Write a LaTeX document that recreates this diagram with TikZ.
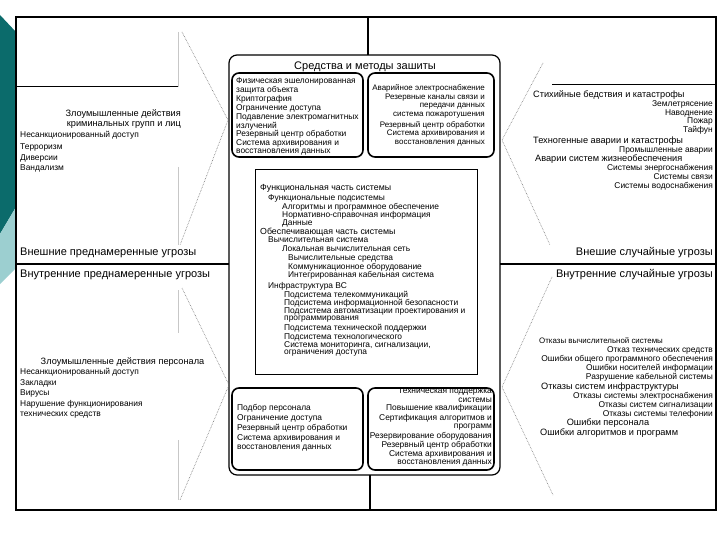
\documentclass[tikz,border=0pt]{standalone}
\usepackage{fontspec}
\setmainfont{Liberation Sans}
\definecolor{tealdark}{HTML}{0B6B6B}
\definecolor{teallight}{HTML}{9CCFD0}
\begin{document}
\begin{tikzpicture}[x=1pt,y=-1pt,
  txt/.style={font=\fontsize{8.4}{9}\selectfont, inner sep=0pt},
  cat/.style={font=\fontsize{9.2}{10}\selectfont, inner sep=0pt},
  lt/.style={txt, anchor=west},
  rt/.style={txt, anchor=east},
  hdr/.style={font=\fontsize{11}{13}\selectfont, inner sep=0pt},
  ibox/.style={draw, line width=1.6pt, rounded corners=7pt, inner sep=0pt, outer sep=0pt},
  dots/.style={densely dotted, black!55, line width=0.6pt},
  faint/.style={black!22, line width=0.6pt},
  rule/.style={line width=1.5pt}]
\useasboundingbox (0,0) rectangle (720,540);
% left decoration
\fill[tealdark] (0,15) -- (16,32) -- (16,207) -- (0,234) -- cycle;
\fill[teallight] (0,234) -- (16,207) -- (16,268) -- (0,284) -- cycle;
% frame
\node[draw, line width=1.6pt, minimum width=700pt, minimum height=493pt, inner sep=0pt, outer sep=0pt, fill=white] (frame) at (366,263.5) {};
% central box
\node[draw, line width=1.2pt, rounded corners=8pt, minimum width=271pt, minimum height=420pt, inner sep=0pt, outer sep=0pt] (cbox) at (364.5,265) {};
\coordinate (ftop) at (368,17);
\coordinate (fbot) at (370,510);
\coordinate (fl) at (16,264);
\coordinate (fr) at (716,264);
\draw[line width=1.2pt] (ftop) -- (ftop |- cbox.north);
\draw[line width=1.2pt] (fbot) -- (fbot |- cbox.south);
\draw[rule] (fl) -- (fl -| cbox.west);
\draw[rule] (fr) -- (fr -| cbox.east);
% chevron shapes
\coordinate (tla) at (182,32); \coordinate (tlb) at (228,120); \coordinate (tlc) at (180,245);
\coordinate (bla) at (182,288); \coordinate (blb) at (229,385); \coordinate (blc) at (180,500);
\coordinate (tra) at (543,63); \coordinate (trb) at (502,140); \coordinate (trc) at (550,245);
\coordinate (bra) at (552,277); \coordinate (brb) at (502,387); \coordinate (brc) at (553,495);
\draw[dots] (tla) -- (tlb) -- (tlc);
\draw[dots] (bla) -- (blb) -- (blc);
\draw[dots] (tra) -- (trb) -- (trc);
\draw[dots] (bra) -- (brb) -- (brc);
\coordinate (g1) at (178,32); \coordinate (g2) at (178,87);
\coordinate (g3) at (178,167); \coordinate (g4) at (178,245);
\coordinate (g5) at (178,290); \coordinate (g6) at (178,333);
\coordinate (g7) at (178,440); \coordinate (g8) at (178,500);
\draw[faint] (g1) -- (g2); \draw[faint] (g3) -- (g4);
\draw[faint] (g5) -- (g6); \draw[faint] (g7) -- (g8);
\coordinate (h1) at (16,87); \coordinate (h2) at (552,85); \coordinate (h3) at (716,85);
\draw[line width=1pt] (h1) -- (g2);
\draw[line width=1pt] (h2) -- (h3);
% title and inner boxes
\node[hdr] (title) at (365,67) {Средства и методы зашиты};
\node[ibox, minimum width=131pt, minimum height=84pt] (b1) at (297.5,115) {};
\node[ibox, minimum width=126pt, minimum height=84pt] (b2) at (431,115) {};
\node[ibox, minimum width=131pt, minimum height=82pt] (b3) at (297.5,429) {};
\node[ibox, minimum width=126pt, minimum height=82pt] (b4) at (431,429) {};
\node[draw, line width=0.8pt, minimum width=222pt, minimum height=205pt, inner sep=0pt, outer sep=0pt] (mid) at (366,271.5) {};
% b1 text
\foreach \y/\t [count=\i] in {81.7/Физическая эшелонированная, 90.5/защита объекта, 99.3/Криптография, 108.2/Ограничение доступа, 117/Подавление электромагнитных, 125.8/излучений, 134.7/Резервный центр обработки, 143.5/Система архивирования и, 152.3/восстановления данных}
  \node[lt] (p\i) at (236,\y) {\t};
% b2 text
\foreach \y/\t [count=\i] in {88/Аварийное электроснабжение, 97.5/Резервные каналы связи и, 106.5/передачи данных, 115.5/система пожаротушения, 125/Резервный центр обработки, 134/Система архивирования и, 143/восстановления данных}
  \node[rt, font=\fontsize{8}{9}\selectfont] (q\i) at (485,\y) {\t};
% middle text
\node[lt, cat, font=\fontsize{8.8}{9}\selectfont] (m0) at (260,188) {Функциональная часть системы};
\node[lt, cat, font=\fontsize{8.8}{9}\selectfont] (m00) at (260,232) {Обеспечивающая часть системы};
\foreach \x/\y/\t [count=\i] in {268/198/Функциональные подсистемы, 282/207/Алгоритмы и программное обеспечение, 282/215/Нормативно-справочная информация, 282/223/Данные, 268/240/Вычислительная система, 282/249/Локальная вычислительная сеть, 288/258/Вычислительные средства, 288/267/Коммуникационное оборудование, 288/275/Интегрированная кабельная система, 268/286/Инфраструктура ВС, 284/295/Подсистема телекоммуникаций, 284/303/Подсистема информационной безопасности, 284/311/Подсистема автоматизации проектирования и, 284/319/программирования, 284/328/Подсистема технической поддержки, 284/337/Подсистема технологического, 284/345/{Система мониторинга, сигнализации,}, 284/353/ограничения доступа}
  \node[lt] (m\i) at (\x,\y) {\t};
% b3 text
\foreach \y/\t [count=\i] in {408/Подбор персонала, 418/Ограничение доступа, 428/Резервный центр обработки, 438/Система архивирования и, 448/восстановления данных}
  \node[lt] (r\i) at (237,\y) {\t};
% b4 text
\foreach \y/\t [count=\i] in {391/Техническая поддержка, 400/системы, 408.5/Повышение квалификации, 418/Сертификация алгоритмов и, 427/программ, 436/Резервирование оборудования, 445/Резервный центр обработки, 454/Система архивирования и, 463/восстановления данных}
  \node[rt] (s\i) at (492,\y) {\t};
% top-left quadrant
\node[cat, anchor=east] (tl1) at (181,114) {Злоумышленные действия};
\node[cat, anchor=east] (tl2) at (181,125) {криминальных групп и лиц};
\foreach \y/\t [count=\i] in {135/Несанкционированный доступ, 147/Терроризм, 158/Диверсии, 168/Вандализм}
  \node[lt] (tlx\i) at (20,\y) {\t};
\node[hdr, anchor=west] (h1t) at (20,253) {Внешние преднамеренные угрозы};
% bottom-left quadrant
\node[hdr, anchor=west] (h2t) at (20,275) {Внутренние преднамеренные угрозы};
\node[cat] (bl1) at (122.5,362) {Злоумышленные действия персонала};
\foreach \y/\t [count=\i] in {372/Несанкционированный доступ, 383/Закладки, 393/Вирусы, 404/Нарушение функционирования, 415/технических средств}
  \node[lt] (blx\i) at (20,\y) {\t};
% top-right quadrant
\node[cat, anchor=west] (tr1) at (533,95) {Стихийные бедствия и катастрофы};
\foreach \y/\t [count=\i] in {104/Землетрясение, 113/Наводнение, 121/Пожар, 130/Тайфун}
  \node[rt] (trx\i) at (713,\y) {\t};
\node[cat, anchor=west] (tr2) at (533,141) {Техногенные аварии и катастрофы};
\node[rt] (tr3) at (713,150) {Промышленные аварии};
\node[cat, anchor=west] (tr4) at (535,159) {Аварии систем жизнеобеспечения};
\foreach \y/\t [count=\i] in {168/Системы энергоснабжения, 177/Системы связи, 186/Системы водоснабжения}
  \node[rt] (try\i) at (713,\y) {\t};
\node[hdr, anchor=east] (h3t) at (713,253) {Внешие случайные угрозы};
% bottom-right quadrant
\node[hdr, anchor=east] (h4t) at (713,275) {Внутренние случайные угрозы};
\node[lt, font=\fontsize{7.9}{9}\selectfont] (br1) at (539,341) {Отказы вычислительной системы};
\foreach \y/\t [count=\i] in {350/Отказ технических средств, 359/Ошибки общего программного обеспечения, 368/Ошибки носителей информации, 377/Разрушение кабельной системы}
  \node[rt] (brx\i) at (713,\y) {\t};
\node[cat, anchor=west] (br2) at (541,387) {Отказы систем инфраструктуры};
\foreach \y/\t [count=\i] in {396/Отказы системы электроснабжения, 405/Отказы систем сигнализации, 414/Отказы системы телефонии}
  \node[rt] (bry\i) at (713,\y) {\t};
\node[cat] (br3) at (608,423) {Ошибки персонала};
\node[cat, anchor=west] (br4) at (540,433) {Ошибки алгоритмов и программ};
\end{tikzpicture}
\end{document}
